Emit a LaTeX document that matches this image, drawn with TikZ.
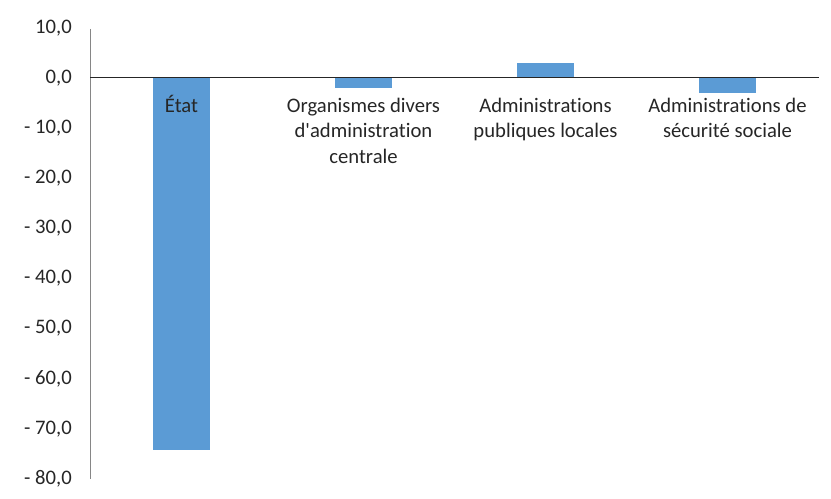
\documentclass[tikz,border=0pt]{standalone}
\usepackage{fontspec}
\setmainfont{Carlito}[Ligatures={NoCommon}]
\usetikzlibrary{positioning}
\definecolor{barblue}{HTML}{5B9BD5}
\definecolor{axisgray}{HTML}{868686}
\definecolor{labelgray}{HTML}{262626}
\begin{document}
\begin{tikzpicture}[x=0.75pt,y=-0.75pt,
  bar/.style={fill=barblue,draw=none},
  tick/.style={anchor=east,inner sep=0pt,text=labelgray,font=\fontsize{15.5}{19}\selectfont},
  cat/.style={anchor=north,inner sep=0pt,align=center,text=labelgray,font=\fontsize{15.5}{19}\selectfont}]
  \useasboundingbox (0,0) rectangle (831,499);
  \coordinate (top) at (90,29);
  \coordinate (bot) at (90,479);
  \coordinate (o) at (90,78);
  \coordinate (end) at (819,78);
  % value axis
  \foreach \v/\t in {10/{10,0},0/{0,0},-10/{- 10,0},-20/{- 20,0},-30/{- 30,0},
      -40/{- 40,0},-50/{- 50,0},-60/{- 60,0},-70/{- 70,0},-80/{- 80,0}}
    \node[tick] (t\v) at (72,{78-5.01*\v}) {\t};
  % bars
  \foreach \n/\c/\v in {etat/181.5/-74.2,odac/363.5/-1.9,apul/545.5/2.9,asso/727.5/-3.0}
    \path[bar] (\c-28.5,78) rectangle (\c+28.5,{78-5.01*\v});
  \draw[axisgray,line width=0.75pt] (top) -- (bot);
  \draw[labelgray,line width=0.75pt] (o) -- (end);
  % categories
  \node[cat] (letat) at (181.5,94.5) {\strut État};
  \node[cat] (lodac) at (363.5,94.5) {\strut Organismes divers\\d\textquotesingle administration\\centrale};
  \node[cat] (lapul) at (545.5,94.5) {\strut Administrations\\publiques locales};
  \node[cat] (lasso) at (727.5,94.5) {\strut Administrations de\\sécurité sociale};
\end{tikzpicture}
\end{document}
